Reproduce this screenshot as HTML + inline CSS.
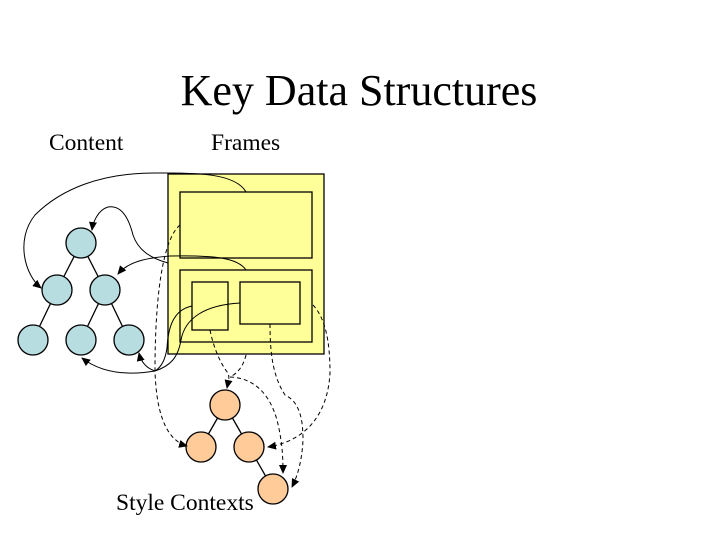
<!DOCTYPE html>
<html><head><style>
body{margin:0;background:#fff;}
svg{display:block;font-family:"Liberation Serif",serif;}
</style></head><body>
<svg width="720" height="540" viewBox="0 0 720 540">
<defs>
<marker id="a" markerWidth="10" markerHeight="10" refX="8" refY="4" orient="auto" markerUnits="userSpaceOnUse">
<path d="M0,0 L9,4 L0,8 z" fill="#000"/></marker>
</defs>
<text x="359" y="105" font-size="44" text-anchor="middle">Key Data Structures</text>
<text x="49" y="150" font-size="23.5">Content</text>
<text x="211" y="150" font-size="23.5">Frames</text>
<text x="116" y="510" font-size="23.5">Style Contexts</text>
<g stroke="#000" stroke-width="1.3">
<rect x="168" y="174" width="156" height="180" fill="#ffff99"/>
<rect x="180" y="192" width="132" height="66" fill="#ffff99"/>
<rect x="180" y="270" width="132" height="72" fill="#ffff99"/>
<rect x="192" y="282" width="36" height="48" fill="#ffff99"/>
<rect x="240" y="282" width="60" height="42" fill="#ffff99"/>
<g fill="none">
<line x1="81" y1="243" x2="57" y2="290"/><line x1="81" y1="243" x2="105" y2="290"/>
<line x1="57" y1="290" x2="33" y2="340"/><line x1="105" y1="290" x2="81" y2="340"/><line x1="105" y1="290" x2="129" y2="340"/>
<line x1="225" y1="405" x2="201" y2="447"/><line x1="225" y1="405" x2="249" y2="447"/><line x1="249" y1="447" x2="273" y2="489"/>
</g>
<g fill="#b8dde1">
<circle cx="81" cy="243" r="15"/><circle cx="57" cy="290" r="15"/><circle cx="105" cy="290" r="15"/>
<circle cx="33" cy="340" r="15"/><circle cx="81" cy="340" r="15"/><circle cx="129" cy="340" r="15"/>
</g>
<g fill="#ffcc99">
<circle cx="225" cy="405" r="15"/><circle cx="201" cy="447" r="15"/><circle cx="249" cy="447" r="15"/><circle cx="273" cy="489" r="15"/>
</g>
</g>
<g fill="none" stroke="#000" stroke-width="1">
<path d="M246,192 C235,172 190,173 160,173 C100,172 60,190 35,215 C15,240 25,275 41,288" marker-end="url(#a)"/>
<path d="M168,263 C150,258 138,250 133,235 C128,215 120,205 108,207 C98,210 93,222 92,230" marker-end="url(#a)"/>
<path d="M246,270 C238,258 215,255 170,256 C145,258 128,262 118,274" marker-end="url(#a)"/>
<path d="M192,306 C172,310 168,330 167,348 C165,362 160,368 155,371 C125,376 100,372 82,358" marker-end="url(#a)"/>
<path d="M240,303 C205,305 185,318 181,340 C178,358 170,366 155,371 C146,368 141,362 139,353" marker-end="url(#a)"/>
</g>
<g fill="none" stroke="#000" stroke-width="1" stroke-dasharray="4,3">
<path d="M180,225 C162,240 155,300 155,370 C156,410 165,440 187,446" marker-end="url(#a)"/>
<path d="M210,330 C214,350 222,366 228,373 C230,378 228,383 227,388" marker-end="url(#a)"/>
<path d="M246,355 C243,368 236,374 230,377"/>
<path d="M230,377 C255,378 270,395 277,420 C282,440 283,455 283,473" marker-end="url(#a)"/>
<path d="M270,324 C270,350 272,375 285,395 C300,402 303,420 303,440 C302,460 298,475 292,487" marker-end="url(#a)"/>
<path d="M313,305 C325,318 330,340 330,373 C328,410 310,440 268,447" marker-end="url(#a)"/>
</g>
</svg>
</body></html>
